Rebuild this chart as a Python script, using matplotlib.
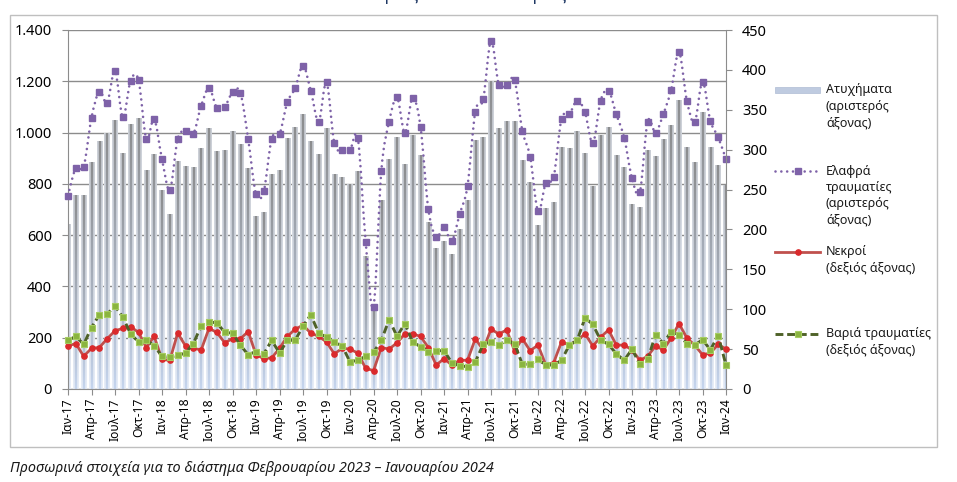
import numpy as np
import matplotlib
matplotlib.use("Agg")
import matplotlib.pyplot as plt
import matplotlib.colors as mc
from matplotlib.path import Path
from matplotlib.patches import PathPatch, Rectangle
from matplotlib.lines import Line2D
from matplotlib.ticker import FuncFormatter, MultipleLocator

plt.rcParams['font.family'] = ['Noto Sans', 'DejaVu Sans']

# ---------------- data (Jan 2017 .. Jan 2024, monthly) ----------------
accidents = [642, 754, 754, 883, 967, 997, 1047, 919, 1032, 1053, 854, 913,
             776, 681, 887, 867, 863, 936, 1014, 928, 931, 1006, 952, 861,
             672, 689, 837, 853, 975, 1020, 1070, 966, 914, 1017, 835, 826,
             796, 850, 516, 324, 737, 896, 980, 876, 990, 910, 649, 546,
             575, 526, 623, 737, 971, 981, 1199, 1015, 1045, 1045, 893, 805,
             637, 705, 727, 943, 936, 1006, 919, 789, 987, 1020, 910, 863,
             718, 707, 929, 906, 974, 1026, 1127, 941, 883, 1078, 941, 870,
             793]
light_injuries = [754, 863, 867, 1058, 1160, 1117, 1240, 1060, 1203, 1205, 975, 1053,
                  896, 776, 975, 1006, 995, 1104, 1173, 1097, 1101, 1157, 1156, 975,
                  760, 773, 976, 994, 1118, 1173, 1261, 1162, 1043, 1196, 958, 932,
                  932, 978, 575, 321, 851, 1043, 1137, 1000, 1136, 1023, 702, 594,
                  630, 578, 682, 792, 1082, 1130, 1358, 1186, 1186, 1205, 1007, 906,
                  694, 805, 828, 1053, 1071, 1125, 1079, 958, 1125, 1163, 1071, 980,
                  822, 767, 1043, 1000, 1072, 1167, 1313, 1125, 1040, 1199, 1046, 982,
                  896]
deaths = [54, 57, 41, 51, 52, 63, 73, 76, 78, 71, 52, 66,
          37, 36, 70, 54, 51, 49, 76, 71, 58, 63, 63, 72,
          43, 38, 39, 51, 66, 75, 80, 70, 66, 59, 44, 51,
          50, 45, 26, 23, 52, 50, 58, 69, 69, 66, 52, 30,
          38, 30, 36, 36, 63, 49, 75, 69, 74, 48, 63, 48,
          55, 30, 33, 59, 55, 61, 69, 54, 65, 74, 55, 55,
          49, 36, 41, 54, 49, 64, 82, 64, 55, 43, 45, 56,
          50]
serious_injuries = [61, 66, 56, 77, 93, 94, 104, 90, 69, 59, 62, 54,
                    41, 40, 42, 45, 57, 79, 84, 83, 71, 70, 55, 43,
                    47, 44, 61, 45, 61, 61, 79, 93, 70, 65, 59, 54,
                    34, 36, 41, 46, 61, 87, 66, 82, 59, 53, 47, 48,
                    48, 33, 29, 28, 34, 56, 59, 55, 61, 57, 31, 31,
                    37, 30, 30, 36, 55, 61, 89, 81, 61, 56, 44, 36,
                    50, 31, 37, 68, 57, 72, 68, 57, 55, 62, 49, 67,
                    30]
tick_labels = ["Ιαν-17", "Απρ-17", "Ιουλ-17", "Οκτ-17",
               "Ιαν-18", "Απρ-18", "Ιουλ-18", "Οκτ-18",
               "Ιαν-19", "Απρ-19", "Ιουλ-19", "Οκτ-19",
               "Ιαν-20", "Απρ-20", "Ιουλ-20", "Οκτ-20",
               "Ιαν-21", "Απρ-21", "Ιουλ-21", "Οκτ-21",
               "Ιαν-22", "Απρ-22", "Ιουλ-22", "Οκτ-22",
               "Ιαν-23", "Απρ-23", "Ιουλ-23", "Οκτ-23",
               "Ιαν-24"]
legend_labels = ["Ατυχήματα\n(αριστερός\nάξονας)",
                 "Ελαφρά\nτραυματίες\n(αριστερός\nάξονας)",
                 "Νεκροί\n(δεξιός άξονας)",
                 "Βαριά τραυματίες\n(δεξιός άξονας)"]
title = "Ιανουάριος 2017 – Ιανουάριος 2024"
footnote = "Προσωρινά στοιχεία για το διάστημα Φεβρουαρίου 2023 – Ιανουαρίου 2024"

# ---------------- styles ----------------
W, H = 957, 482
C_PURPLE = '#7E62A8'
C_RED_LINE = '#C0504D'
C_RED_MK = '#DA2A2C'
C_GREEN_LINE = '#4F6228'
C_GREEN_MK = '#8AB440'
C_GRID = '#8C8C8C'
C_SPINE = '#8C8C8C'

fig = plt.figure(figsize=(W / 100, H / 100), dpi=100)
L, R, T, B = 68, 726, 30, 389
ax = fig.add_axes([L / W, 1 - B / H, (R - L) / W, (B - T) / H])
ax2 = ax.twinx()

n = len(accidents)
x = np.arange(n)

# ---------------- bars with gradient fill ----------------
bars = ax.bar(x, accidents, width=0.72, color='none', edgecolor='none', zorder=1)


def rgb(h):
    return np.array(mc.to_rgb(h))


nu, nv = 11, 80
u = np.linspace(-1, 1, nu)
wgt = np.exp(-(u / 0.40) ** 2)[None, :, None]
v = np.linspace(1, 0, nv)[:, None, None]
fv = np.clip(v, 0, 1) ** 0.85
c_top, c_bot = rgb('#767676'), rgb('#bacdeb')
e_top, e_bot = rgb('#cdd1d8'), rgb('#e8eef8')
center = c_bot + (c_top - c_bot) * fv
edge = e_bot + (e_top - e_bot) * fv
grad = edge + (center - edge) * wgt
for p in bars.patches:
    x0 = p.get_x()
    ax.imshow(grad, extent=(x0, x0 + p.get_width(), 0, p.get_height()),
              aspect='auto', interpolation='bilinear', zorder=1, origin='upper')

# ---------------- smoothed light-injuries line ----------------
def smooth_path(xs, ys):
    xs = np.asarray(xs, float)
    ys = np.asarray(ys, float)
    m = len(xs)
    verts = [(xs[0], ys[0])]
    codes = [Path.MOVETO]
    for i in range(m - 1):
        i0 = max(i - 1, 0)
        i3 = min(i + 2, m - 1)
        c1 = (xs[i] + (xs[i + 1] - xs[i0]) / 6, ys[i] + (ys[i + 1] - ys[i0]) / 6)
        c2 = (xs[i + 1] - (xs[i3] - xs[i]) / 6, ys[i + 1] - (ys[i3] - ys[i]) / 6)
        verts += [c1, c2, (xs[i + 1], ys[i + 1])]
        codes += [Path.CURVE4] * 3
    return Path(verts, codes)


purple_ls = (0, (0.01, 2.2))
pp = PathPatch(smooth_path(x, light_injuries), fill=False, edgecolor=C_PURPLE,
               lw=1.9, linestyle=purple_ls, capstyle='round', zorder=3, clip_on=False)
ax.add_patch(pp)
ax.plot(x, light_injuries, linestyle='none', marker='s', ms=3.8, color=C_PURPLE,
        mec=C_PURPLE, zorder=4, clip_on=False)

# ---------------- right axis lines ----------------
red_kw = dict(color=C_RED_LINE, lw=2.0, marker='o', ms=3.8, mfc=C_RED_MK, mec=C_RED_MK)
green_kw = dict(color=C_GREEN_LINE, lw=2.1, linestyle=(0, (2.7, 1.3)), marker='s', ms=4.2,
                mfc=C_GREEN_MK, mec='#A6CC62', mew=0.8)
ax2.plot(x, deaths, zorder=3, clip_on=False, **red_kw)
ax2.plot(x, serious_injuries, zorder=4, clip_on=False, **green_kw)

# ---------------- axes formatting ----------------
ax.set_xlim(0, n - 1)
ax.set_ylim(0, 1400)
ax2.set_ylim(0, 450)
ax.yaxis.set_major_locator(MultipleLocator(200))
ax2.yaxis.set_major_locator(MultipleLocator(50))
ax.yaxis.set_major_formatter(FuncFormatter(lambda val, pos: f"{int(val):,}".replace(',', '.')))
ax.set_xticks(x[::3])
ax.set_xticklabels(tick_labels, rotation=90, fontsize=8.7)
ax.tick_params(axis='x', length=4, width=0.8, color=C_SPINE, pad=2.5)
ax.tick_params(axis='y', length=4, width=0.8, color=C_SPINE, pad=7.5, labelsize=10.5)
ax2.tick_params(axis='y', length=4, width=0.8, color=C_SPINE, pad=7.5, labelsize=10.5)

ax.set_axisbelow(True)
ax.grid(axis='y', color=C_GRID, lw=1.0)
ax.grid(axis='x', visible=False)
for a in (ax, ax2):
    a.spines['top'].set_visible(False)
    for s in ('left', 'right', 'bottom'):
        a.spines[s].set_color(C_SPINE)
        a.spines[s].set_linewidth(0.8)
ax2.spines['left'].set_visible(False)
ax2.spines['bottom'].set_visible(False)
ax.spines['right'].set_visible(False)

# ---------------- legend (drawn manually) ----------------
def fx(px):
    return px / W


def fy(py):
    return 1 - py / H


hx0, hx1, hxm, tx = 775, 820, 797.5, 826
# bars
fig.patches.append(Rectangle((fx(hx0), fy(92.5)), fx(hx1) - fx(hx0), 6 / H,
                             transform=fig.transFigure, facecolor='#bfcbe0',
                             edgecolor='#afbdd4', lw=0.5))
# purple
fig.add_artist(Line2D([fx(hx0), fx(hx1)], [fy(171)] * 2, transform=fig.transFigure,
                      color=C_PURPLE, lw=1.9, linestyle=purple_ls, dash_capstyle='round'))
fig.add_artist(Line2D([fx(hxm)], [fy(171)], transform=fig.transFigure, linestyle='none',
                      marker='s', ms=3.8, color=C_PURPLE))
# red
fig.add_artist(Line2D([fx(hx0), fx(hx1)], [fy(252)] * 2, transform=fig.transFigure,
                      color=C_RED_LINE, lw=2.0))
fig.add_artist(Line2D([fx(hxm)], [fy(252)], transform=fig.transFigure, linestyle='none',
                      marker='o', ms=3.8, mfc=C_RED_MK, mec=C_RED_MK))
# green
fig.add_artist(Line2D([fx(hx0), fx(hx1)], [fy(334)] * 2, transform=fig.transFigure,
                      color=C_GREEN_LINE, lw=2.1, linestyle=(0, (2.7, 1.3))))
fig.add_artist(Line2D([fx(hxm)], [fy(334)], transform=fig.transFigure, linestyle='none',
                      marker='s', ms=4.2, mfc=C_GREEN_MK, mec='#A6CC62', mew=0.8))

first_line_y = [90, 171, 252, 334]
line_step = 16.3
for lab, y0 in zip(legend_labels, first_line_y):
    for k, line in enumerate(lab.split('\n')):
        fig.text(fx(tx), fy(y0 + k * line_step), line, ha='left', va='center',
                 fontsize=9, color='#1a1a1a')

# ---------------- frame, title, footnote ----------------
fig.patches.append(Rectangle((fx(10), fy(447)), fx(937) - fx(10), (447 - 15) / H,
                             transform=fig.transFigure, fill=False,
                             edgecolor='#BFBFBF', lw=1.0))
# the title sits above the visible area, as in the reference, where only its lower edge shows
fig.text(fx(470), fy(0.3), title, ha='center', va='baseline', fontsize=12,
         fontweight='bold', color='#1F3864')
fig.text(fx(10), fy(468), footnote, ha='left', va='center', fontsize=10.4,
         style='italic', color='#1a1a1a')

fig.savefig('out.png', dpi=100)
